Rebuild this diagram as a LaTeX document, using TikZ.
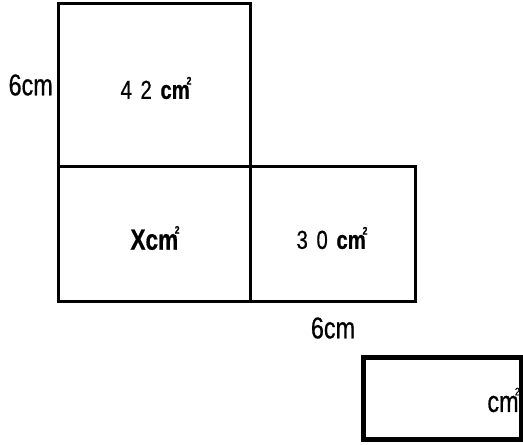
\documentclass[tikz,border=0pt]{standalone}
\usepackage{fontspec}
\setmainfont{Liberation Sans}[FakeStretch=0.78, FakeBold=0.6, BoldFeatures={FakeStretch=0.78}]
\newcommand{\sqcm}{{\bfseries cm}\kern-0.12em\raisebox{0.55em}{\fontsize{11}{11}\selectfont\bfseries 2}}
\newcommand{\sqcmr}{cm\kern-0.12em\raisebox{0.55em}{\fontsize{11}{11}\selectfont 2}}
\begin{document}
\begin{tikzpicture}[x=1pt,y=1pt,
  box/.style={draw=black, line width=3pt, inner sep=0pt, fill=none},
  big/.style={font=\fontsize{30}{30}\selectfont},
  mid/.style={font=\fontsize{26}{26}\selectfont}]
\useasboundingbox (0,0) rectangle (523,445);
\node[box, minimum width=192, minimum height=163] (top) at (154,359.5) {};
\node[box, minimum width=192, minimum height=135] (xb) at (154,210.5) {};
\node[box, minimum width=165, minimum height=135] (rb) at (332.5,210.5) {};
\node[box, line width=5pt, minimum width=158, minimum height=82] (sb) at (442,46) {};
\node[mid] (t1) at (156,357) {4\,\,2\,\,\sqcm};
\node[font=\fontsize{29}{29}\selectfont\bfseries] (t2) at (155,207) {X\sqcm};
\node[mid] (t3) at (332,207) {3\,\,0\,\,\sqcm};
\node[big, anchor=east, inner sep=0pt] (l1) at (53,360) {6cm};
\node[big] (l2) at (333,117) {6cm};
\node[font=\fontsize{30}{30}\selectfont, anchor=east, inner sep=0pt] (t4) at (520,45) {\sqcmr};
\end{tikzpicture}
\end{document}
